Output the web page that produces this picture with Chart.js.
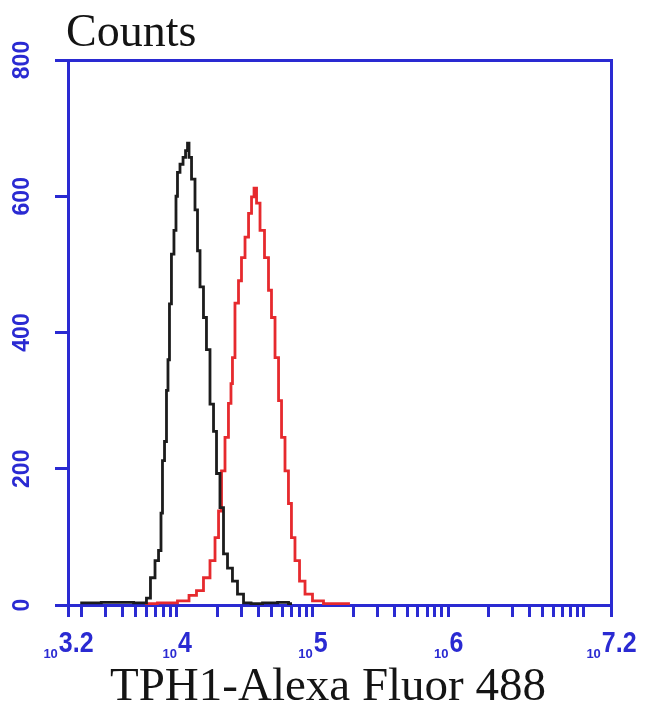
<!DOCTYPE html>
<html>
<head>
<meta charset="utf-8">
<script src="https://cdn.jsdelivr.net/npm/chart.js@4.4.1/dist/chart.umd.min.js"></script>
<style>
  html, body { margin: 0; padding: 0; background: #fff; }
  #wrap { width: 650px; height: 710px; }
</style>
</head>
<body>
<div id="wrap"><canvas id="flow" width="650" height="710"></canvas></div>
<script>
// === DATA ===
// log10 of fluorescence intensity (channel) and event counts
const blackExp = [3.29, 3.60, 3.767, 3.789, 3.826, 3.856, 3.878, 3.892, 3.900, 3.922, 3.929, 3.944, 3.951, 3.973, 3.988,
    4.003, 4.010, 4.040, 4.055, 4.077, 4.084, 4.099, 4.121, 4.150, 4.158, 4.187, 4.209, 4.231, 4.261, 4.283,
    4.305, 4.334, 4.357, 4.393, 4.430, 4.467, 4.519, 4.578, 4.688, 4.799, 4.850];
const blackCounts = [3, 4, 3, 10, 40, 65, 80, 135, 212, 240, 315, 360, 442, 515, 550,
    600, 635, 647, 657, 667, 678, 657, 625, 580, 520, 467, 422, 375, 295, 255,
    193, 143, 75, 54, 35, 16, 3, 2, 3, 4, 2];

const redExp = [3.767, 3.951, 4.062, 4.121, 4.172, 4.224, 4.268, 4.298, 4.320, 4.342, 4.371, 4.393, 4.408,
    4.415, 4.445, 4.467, 4.489, 4.519, 4.541, 4.563, 4.578, 4.600, 4.629, 4.666, 4.688, 4.710, 4.740,
    4.762, 4.784, 4.813, 4.835, 4.857, 4.887, 4.924, 4.968, 5.034, 5.130, 5.277];
const redCounts = [2, 3, 6, 14, 21, 40, 65, 99, 138, 197, 246, 296, 325,
    363, 443, 476, 510, 540, 575, 599, 612, 590, 550, 510, 462, 422, 363,
    300, 246, 197, 149, 99, 65, 35, 16, 6, 2, 2];

// axis range (log10) and ticks
const xMinExp = 3.2;
const xMaxExp = 7.2;
const xLabelExps = ['3.2', '4', '5', '6', '7.2'];
const xTickValues = [
    Math.pow(10, 3.2), 2e3, 3e3, 4e3, 5e3, 6e3, 7e3, 8e3, 9e3,
    1e4, 2e4, 3e4, 4e4, 5e4, 6e4, 7e4, 8e4, 9e4,
    1e5, 2e5, 3e5, 4e5, 5e5, 6e5, 7e5, 8e5, 9e5,
    1e6, 2e6, 3e6, 4e6, 5e6, 6e6, 7e6, 8e6, 9e6,
    1e7, Math.pow(10, 7.2)
];
const yTickValues = [0, 200, 400, 600, 800];

const yTitle = 'Counts';
const xTitle = 'TPH1-Alexa Fluor 488';

const BLUE = '#2a2ad2';
const toPoints = (exps, counts) => exps.map((e, i) => ({ x: Math.pow(10, e), y: counts[i] }));

// labels drawn from the scales (mixed font sizes / rotated text)
const labelPlugin = {
    id: 'flowLabels',
    afterDraw(chart) {
        const ctx = chart.ctx;
        const xs = chart.scales.x;
        const ys = chart.scales.y;
        ctx.save();
        ctx.fillStyle = BLUE;

        // y tick labels, rotated
        ctx.font = 'bold 23px "Liberation Sans", Arial, sans-serif';
        ctx.textAlign = 'center';
        ctx.textBaseline = 'middle';
        yTickValues.forEach(v => {
            const py = ys.getPixelForValue(v);
            ctx.save();
            ctx.translate(23, py);
            ctx.rotate(-Math.PI / 2);
            ctx.fillText(String(v), 0, 0);
            ctx.restore();
        });

        // x tick labels: small "10" then exponent
        ctx.textAlign = 'left';
        ctx.textBaseline = 'alphabetic';
        xLabelExps.forEach(e => {
            const px = xs.getPixelForValue(Math.pow(10, Number(e)));
            ctx.font = 'bold 13px "Liberation Sans", Arial, sans-serif';
            const w1 = ctx.measureText('10').width;
            ctx.font = 'bold 25px "Liberation Sans", Arial, sans-serif';
            const w2 = ctx.measureText(e).width;
            const x0 = px - (w1 + w2) / 2;
            ctx.font = 'bold 13px "Liberation Sans", Arial, sans-serif';
            ctx.fillText('10', x0, 658);
            ctx.save();
            ctx.translate(x0 + w1 + 1, 652);
            ctx.scale(1, 1.15);
            ctx.font = 'bold 25px "Liberation Sans", Arial, sans-serif';
            ctx.fillText(e, 0, 0);
            ctx.restore();
        });

        // titles
        ctx.fillStyle = '#141414';
        ctx.font = '46px "Liberation Serif", "Times New Roman", serif';
        ctx.textAlign = 'left';
        ctx.fillText(yTitle, 66, 46);
        ctx.font = '47px "Liberation Serif", "Times New Roman", serif';
        ctx.textAlign = 'center';
        ctx.fillText(xTitle, 328, 700);
        ctx.restore();
    }
};

new Chart(document.getElementById('flow').getContext('2d'), {
    type: 'line',
    data: {
        datasets: [{
            data: toPoints(blackExp, blackCounts),
            borderColor: '#1c1c1c',
            borderWidth: 2.8,
            pointRadius: 0,
            stepped: 'middle',
            fill: false
        }, {
            data: toPoints(redExp, redCounts),
            borderColor: '#e62a2e',
            borderWidth: 2.8,
            pointRadius: 0,
            stepped: 'middle',
            fill: false
        }]
    },
    options: {
        responsive: false,
        animation: false,
        layout: {
            padding: { top: 60, right: 39, left: 0, bottom: 0 }
        },
        plugins: {
            legend: { display: false },
            tooltip: { enabled: false }
        },
        scales: {
            x: {
                type: 'logarithmic',
                position: 'bottom',
                min: Math.pow(10, xMinExp),
                max: Math.pow(10, xMaxExp),
                afterBuildTicks: s => { s.ticks = xTickValues.map(v => ({ value: v })); },
                afterFit: s => { s.height = 105; },
                ticks: { display: false },
                grid: {
                    display: true,
                    drawOnChartArea: false,
                    drawTicks: true,
                    tickLength: 12,
                    color: BLUE,
                    lineWidth: 3
                },
                border: { display: true, color: BLUE, width: 3 }
            },
            y: {
                type: 'linear',
                position: 'left',
                min: 0,
                max: 800,
                afterBuildTicks: s => { s.ticks = yTickValues.map(v => ({ value: v })); },
                afterFit: s => { s.width = 68; },
                ticks: { display: false },
                grid: {
                    display: true,
                    drawOnChartArea: false,
                    drawTicks: true,
                    tickLength: 13,
                    color: BLUE,
                    lineWidth: 3
                },
                border: { display: true, color: BLUE, width: 3 }
            },
            xTop: {
                axis: 'x',
                type: 'linear',
                position: 'top',
                afterFit: s => { s.height = 0; },
                ticks: { display: false },
                grid: { display: false },
                border: { display: true, color: BLUE, width: 3 }
            },
            yRight: {
                axis: 'y',
                type: 'linear',
                position: 'right',
                afterFit: s => { s.width = 0; },
                ticks: { display: false },
                grid: { display: false },
                border: { display: true, color: BLUE, width: 3 }
            }
        }
    },
    plugins: [labelPlugin]
});
</script>
</body>
</html>
